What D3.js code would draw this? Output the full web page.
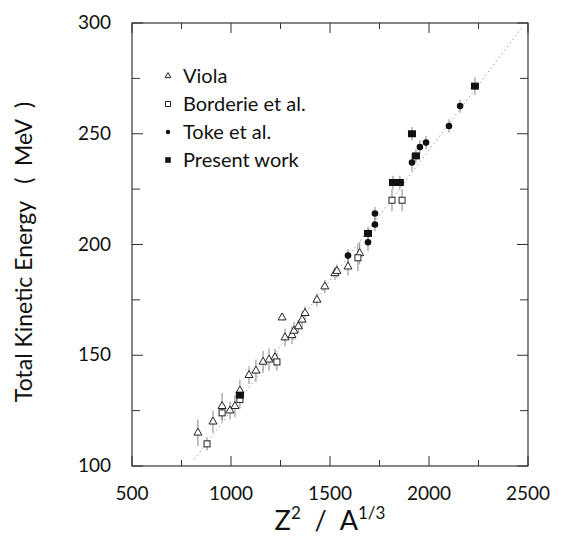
<!DOCTYPE html>
<html>
<head>
<meta charset="utf-8">
<script src="https://cdn.jsdelivr.net/npm/d3@7"></script>
<style>
  body { margin: 0; background: #fff; }
  svg text { font-family: Lato, "DejaVu Sans", sans-serif; fill: #111; white-space: pre; }
</style>
</head>
<body>
<svg width="566" height="540"></svg>
<script>
// values: [Z^2/A^1/3, TKE (MeV), error]
var viola = [
  [833,115,6],[909,120,5],[955,127,6],[995,125,4],[1020,127,5],[1045,134,5],
  [1091,141,4],[1126,143,5],[1162,147,5],[1192,148,5],[1222,149,4],[1258,167,0],
  [1273,158,4],[1308,159,4],[1318,161,4],[1340,163,3],[1359,166,4],[1374,169,3],
  [1434,175,3],[1474,181,3],[1525,187,3],[1535,188,3],[1591,190,4],[1650,196,5]
];
var borderie = [
  [879,110,3],[955,124,4],[1045,130,4],[1232,147,4],[1641,194,6],[1813,220,5],[1864,220,5]
];
var toke = [
  [1591,195,3],[1692,201,4],[1727,209,3],[1727,214,3],[1914,237,4],[1954,244,3],
  [1985,246,3],[2101,253.5,3],[2157,262.5,3]
];
var present = [
  [1045,132,3],[1692,205,3],[1818,228,3],[1853,228,3],[1914,250,3],[1934,240,3],[2232,271.5,4]
];
var fitLine = [[815,103],[2470,298]];
var xTicks = [500,1000,1500,2000,2500];
var yTicks = [100,150,200,250,300];
var legendNames = ["Viola","Borderie et al.","Toke et al.","Present work"];

var svg = d3.select("svg");
var x = d3.scaleLinear().domain([500,2500]).range([132,528]);
var y = d3.scaleLinear().domain([100,300]).range([466,23]);

// frame
svg.append("rect").attr("x",132).attr("y",23).attr("width",396).attr("height",443)
  .attr("fill","none").attr("stroke","#222").attr("stroke-width",1.1);

// ticks, all pointing inward
var g = svg.append("g").attr("stroke","#333").attr("stroke-width",1);
d3.range(500,2501,250).forEach(function(v){
  var len = v%500==0 ? 10 : 6;
  g.append("line").attr("x1",x(v)).attr("x2",x(v)).attr("y1",466).attr("y2",466-len);
  g.append("line").attr("x1",x(v)).attr("x2",x(v)).attr("y1",23).attr("y2",23+len);
});
d3.range(100,301,25).forEach(function(v){
  var len = v%50==0 ? 11 : 8;
  g.append("line").attr("y1",y(v)).attr("y2",y(v)).attr("x1",132).attr("x2",132+len);
  g.append("line").attr("y1",y(v)).attr("y2",y(v)).attr("x1",528).attr("x2",528-len);
});

svg.selectAll(".xt").data(xTicks).enter().append("text")
  .attr("x",function(d){return x(d);}).attr("y",500)
  .attr("text-anchor","middle").attr("font-size",19).text(function(d){return d;});
svg.selectAll(".yt").data(yTicks).enter().append("text")
  .attr("x",111).attr("y",function(d){return y(d)+6;})
  .attr("text-anchor","end").attr("font-size",19).text(function(d){return d;});

// axis titles
var xl = svg.append("text").attr("x",330).attr("y",530).attr("text-anchor","middle").attr("font-size",27);
xl.append("tspan").text("Z");
xl.append("tspan").attr("font-size",17).attr("dy",-11).text("2");
xl.append("tspan").attr("dy",11).text("  /  A");
xl.append("tspan").attr("font-size",17).attr("dy",-11).text("1/3");
svg.append("text").attr("transform","translate(32,252) rotate(-90)")
  .attr("text-anchor","middle").attr("font-size",23)
  .text("Total Kinetic Energy   (  MeV  )");

// fitted line
svg.append("line").attr("x1",x(fitLine[0][0])).attr("y1",y(fitLine[0][1]))
  .attr("x2",x(fitLine[1][0])).attr("y2",y(fitLine[1][1]))
  .attr("stroke","#999").attr("stroke-width",1).attr("stroke-dasharray","1.5,3");

// error bars
function errBars(data){
  svg.append("g").selectAll("line").data(data.filter(function(d){return d[2]>0;})).enter()
    .append("line")
    .attr("x1",function(d){return x(d[0]);}).attr("x2",function(d){return x(d[0]);})
    .attr("y1",function(d){return y(d[1]-d[2]);}).attr("y2",function(d){return y(d[1]+d[2]);})
    .attr("stroke","#777").attr("stroke-width",0.9);
}
[viola,borderie,toke,present].forEach(errBars);

var tri = d3.symbol().type(d3.symbolTriangle).size(28);
svg.append("g").selectAll("path").data(viola).enter().append("path")
  .attr("d",tri).attr("transform",function(d){return "translate("+x(d[0])+","+y(d[1])+")";})
  .attr("fill","#fff").attr("stroke","#222").attr("stroke-width",1);
svg.append("g").selectAll("rect").data(borderie).enter().append("rect")
  .attr("x",function(d){return x(d[0])-3;}).attr("y",function(d){return y(d[1])-3;})
  .attr("width",6).attr("height",6).attr("fill","#fff").attr("stroke","#222").attr("stroke-width",1);
svg.append("g").selectAll("circle").data(toke).enter().append("circle")
  .attr("cx",function(d){return x(d[0]);}).attr("cy",function(d){return y(d[1]);})
  .attr("r",3.3).attr("fill","#111");
svg.append("g").selectAll("rect").data(present).enter().append("rect")
  .attr("x",function(d){return x(d[0])-4;}).attr("y",function(d){return y(d[1])-3.5;})
  .attr("width",8).attr("height",7).attr("fill","#111");

// legend
var leg = svg.append("g");
var ly = [76,104,132,160];
legendNames.forEach(function(n,i){
  var cx = 168, cy = ly[i];
  if(i==0) leg.append("path").attr("d",d3.symbol().type(d3.symbolTriangle).size(14)())
    .attr("transform","translate("+cx+","+cy+")").attr("fill","#fff").attr("stroke","#222");
  if(i==1) leg.append("rect").attr("x",cx-2.5).attr("y",cy-2.5).attr("width",5).attr("height",5)
    .attr("fill","#fff").attr("stroke","#222");
  if(i==2) leg.append("circle").attr("cx",cx).attr("cy",cy).attr("r",2.2).attr("fill","#111");
  if(i==3) leg.append("rect").attr("x",cx-2.8).attr("y",cy-2.8).attr("width",5.6).attr("height",5.6).attr("fill","#111");
  leg.append("text").attr("x",183).attr("y",cy+7).attr("font-size",20).text(n);
});
</script>
</body>
</html>
